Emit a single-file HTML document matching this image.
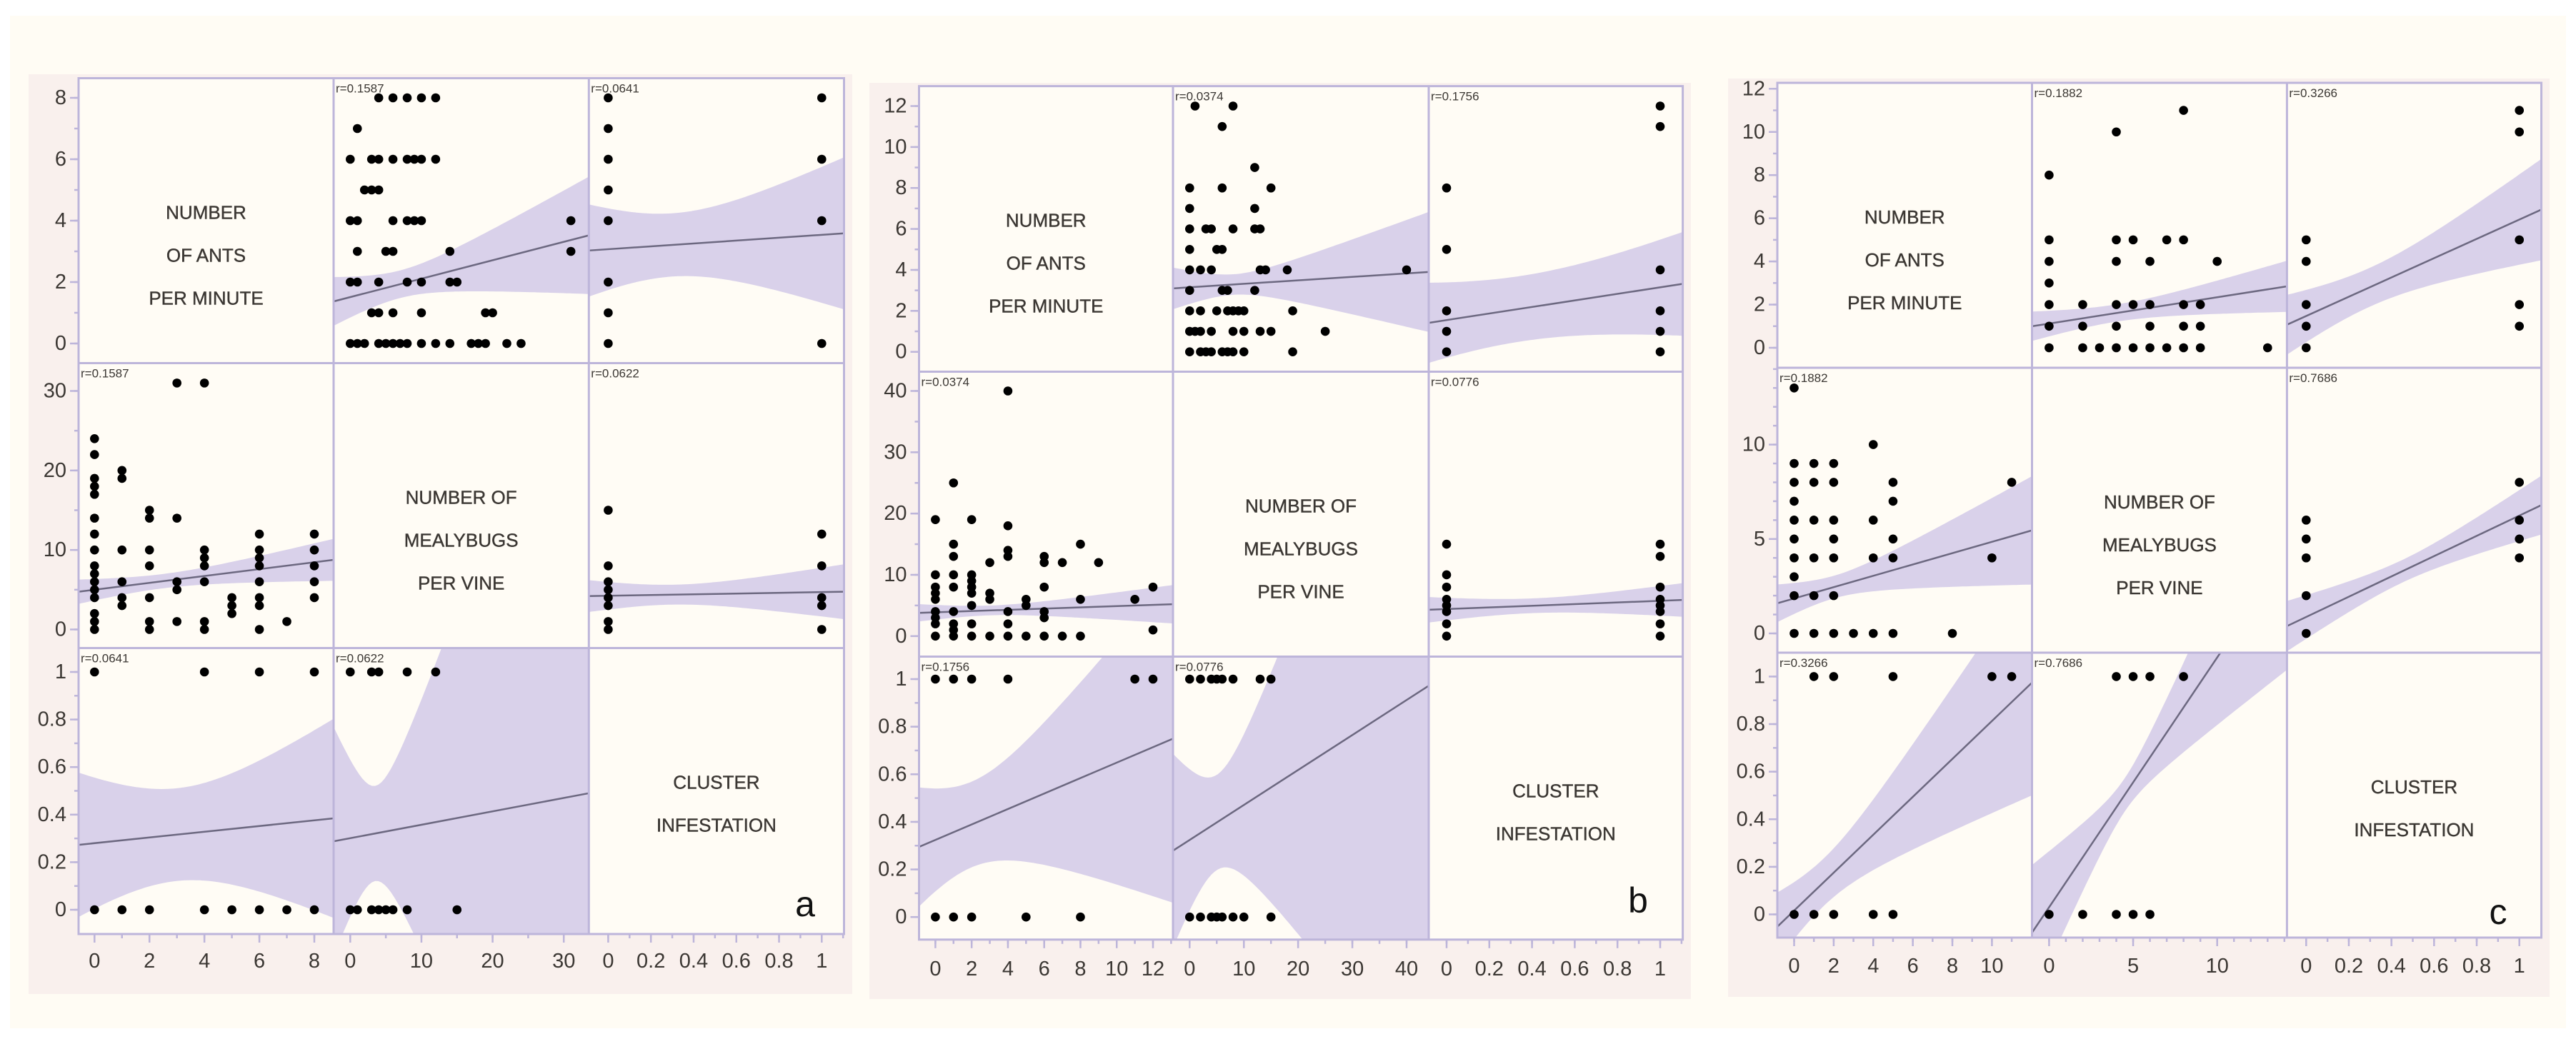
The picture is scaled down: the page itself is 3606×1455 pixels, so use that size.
<!DOCTYPE html>
<html><head><meta charset="utf-8"><style>
html,body{margin:0;padding:0;background:#fff;overflow:hidden;width:3606px;height:1455px;}
svg{display:block;}
</style></head><body>
<svg id="chart" width="3606" height="1455" viewBox="0 0 3606 1455" xmlns="http://www.w3.org/2000/svg"></svg>
<script>
// ---------- DATA ----------
// Ants vs mealybugs pairs, grouped by ants value: [ants, [mealybug values]]
const aAntsMealy = [[8,[4,6,8,10,12]],[7,[1]],[6,[0,3,4,6,8,9,10,12]],[5,[2,3,4]],[4,[0,1,6,8,9,10,31]],[3,[1,5,6,14,31]],[2,[0,1,4,8,10,14,15]],[1,[3,4,6,10,19,20]],[0,[0,1,2,4,5,6,7,8,10,12,14,17,18,19,22,24]]];
const bAntsMealy = [[12,[1,8]],[11,[6]],[9,[12]],[8,[0,6,15]],[7,[0,12]],[6,[0,3,4,8,12,13]],[5,[0,5,6]],[4,[0,2,4,13,14,18,40]],[3,[0,6,7,12]],[2,[0,2,5,7,8,9,10,19]],[1,[0,1,2,4,8,10,13,15,25]],[0,[0,2,3,4,6,7,8,10,19]]];
const cAntsMealy = [[11,[8]],[10,[4]],[8,[0]],[5,[0,4,5,7,8]],[4,[0,4,6,10]],[3,[0]],[2,[0,2,4,5,6,8,9]],[1,[0,2,4,6,8,9]],[0,[0,2,3,4,5,6,7,8,9,13]]];
// Cluster infestation (0/1) vs ants / mealybugs
const aAntsC0 = [0,1,2,4,5,6,7,8], aAntsC1 = [0,4,6,8];
const aMealyC0 = [0,1,3,4,5,6,8,15], aMealyC1 = [0,3,4,8,12];
const bAntsC0 = [0,1,2,5,8], bAntsC1 = [0,1,2,4,11,12];
const bMealyC0 = [0,2,4,5,6,8,10,15], bMealyC1 = [0,2,4,5,6,8,13,15];
const cAntsC0 = [0,1,2,4,5], cAntsC1 = [1,2,5,10,11];
const cMealyC0 = [0,2,4,5,6], cMealyC1 = [4,5,6,8];
// Correlations [ants-mealy, ants-cluster, mealy-cluster]
const aR = ["0.1587","0.0641","0.0622"];
const bR = ["0.0374","0.1756","0.0776"];
const cR = ["0.1882","0.3266","0.7686"];
// Fits per cell "rc": [intercept, slope, xbar, halfwidth-at-xbar, spread]
const aFits = {"01":[1.51,0.060,7,0.45,0.07],"02":[3.07,0.468,0.3,1.03,2.8],"10":[5.0,0.432,2.5,0.9,0.4],"12":[4.24,0.46,0.3,1.25,4],"20":[0.28,0.012,3,0.195,0.065],"21":[0.301,0.00564,3.5,0.2,0.075]};
const bFits = {"01":[3.15,0.017,8,0.5,0.08],"02":[1.55,1.6,0.35,1.6,2.6],"10":[3.89,0.1,3,0.8,0.3],"12":[4.41,1.35,0.4,1.2,3.5],"20":[0.324,0.0325,2,0.18,0.06],"21":[0.324,0.0147,5,0.2,0.044]};
const cFits = {"01":[1.12,0.122,4,0.4,0.11],"02":[1.47,4.47,0.3,0.9,2.7],"10":[1.85,0.30,2,0.6,0.28],"12":[0.87,5.37,0.45,0.6,2.2],"20":[0.016,0.0797,1.5,0.1,0.044],"21":[0.03,0.105,4.5,0.07,0.05]};
// Tick labels per variable axis [major values], minor step
const aTicks = [[0,2,4,6,8],[0,10,20,30],[0,0.2,0.4,0.6,0.8,1]];
const bTicks = [[0,2,4,6,8,10,12],[0,10,20,30,40],[0,0.2,0.4,0.6,0.8,1]];
const cTicks = [[0,2,4,6,8,10,12],[0,5,10],[0,0.2,0.4,0.6,0.8,1]];
const aXTicks = [[0,2,4,6,8],[0,10,20,30],[0,0.2,0.4,0.6,0.8,1]];
const bXTicks = [[0,2,4,6,8,10,12],[0,10,20,30,40],[0,0.2,0.4,0.6,0.8,1]];
const cXTicks = [[0,2,4,6,8,10],[0,5,10],[0,0.2,0.4,0.6,0.8,1]];
const aMinor = [[1,5,0.1],[1,5,0.1]];
const bMinor = [[1,5,0.1],[1,5,0.1]];
const cMinor = [[1,1,0.1],[1,1,0.1]];
const varLabels = [["NUMBER","OF ANTS","PER MINUTE"],["NUMBER OF","MEALYBUGS","PER VINE"],["CLUSTER","INFESTATION"]];

// ---------- LAYOUT (geometry only) ----------
const panels = [
 {id:"a", bg:[40,104,1193,1392], cols:[110,467,824.3,1181.5], rows:[109.5,508.5,907.5,1308],
  xm:[[0,132.3,8,440],[0,490.3,30,789.2],[0,851.4,1,1150.3]],
  ym:[[0,481,8,137],[0,881.5,30,547.5],[0,1274,1,941]], xlY:1346, letter:[1127,1283],
  pairs:aAntsMealy, ac0:aAntsC0, ac1:aAntsC1, mc0:aMealyC0, mc1:aMealyC1, r:aR, fits:aFits, yt:aTicks, xt:aXTicks, mn:aMinor},
 {id:"b", bg:[1217,116,2367,1399], cols:[1286.5,1642,2000,2355.6], rows:[120.6,520.5,919.5,1315.8],
  xm:[[0,1309.4,12,1614],[0,1665.3,40,1969],[0,2025,1,2324]],
  ym:[[0,492.7,12,148.5],[0,890.8,40,547.5],[0,1284.2,1,951]], xlY:1357, letter:[2293,1278],
  pairs:bAntsMealy, ac0:bAntsC0, ac1:bAntsC1, mc0:bMealyC0, mc1:bMealyC1, r:bR, fits:bFits, yt:bTicks, xt:bXTicks, mn:bMinor},
 {id:"c", bg:[2419,110,3569,1396], cols:[2488,2844.5,3201.4,3557.5], rows:[116,515,914,1313],
  xm:[[0,2511.5,10,2788.4],[0,2868.4,10,3103.7],[0,3228.3,1,3526.7]],
  ym:[[0,487,12,124.3],[0,887,10,622.6],[0,1280.5,1,947.4]], xlY:1353, letter:[3497,1294],
  pairs:cAntsMealy, ac0:cAntsC0, ac1:cAntsC1, mc0:cMealyC0, mc1:cMealyC1, r:cR, fits:cFits, yt:cTicks, xt:cXTicks, mn:cMinor}
];

const NS = "http://www.w3.org/2000/svg";
const svg = document.getElementById("chart");
function mk(tag, attrs, parent){
  const e = document.createElementNS(NS, tag);
  for (const k in attrs) e.setAttribute(k, attrs[k]);
  (parent||svg).appendChild(e);
  return e;
}
function lin(m){ return v => m[1] + (v-m[0])*(m[3]-m[1])/(m[2]-m[0]); }
function inv(m){ return p => m[0] + (p-m[1])*(m[2]-m[0])/(m[3]-m[1]); }
function fmt(v){ if (v===0) return "0"; if (v===1) return "1"; return String(+v.toFixed(2)); }

const FRAME = "#bdb5da", BAND = "#d9d1ea", LINE = "#6c6880", TXT = "#3b3733";
const FONT = '"Liberation Sans", "DejaVu Sans", sans-serif';

const pageBg = mk("rect",{x:14,y:22,width:3578,height:1418,fill:"#fffcf4"});



panels.forEach((P, pi) => {
  const g = mk("g",{});
  
  
  const bgR = mk("rect",{x:P.bg[0],y:P.bg[1],width:P.bg[2]-P.bg[0],height:P.bg[3]-P.bg[1],fill:"#f9f0ed"},g);
  
  
  const L=P.cols[0], R=P.cols[3], T=P.rows[0], B=P.rows[3];
  const plotR = mk("rect",{x:L,y:T,width:R-L,height:B-T,fill:"#fffcf5"},g);
  
  

  const X = P.xm.map(lin), Y = P.ym.map(lin), Xi = P.xm.map(inv);
  function pts(r,c){
    const out=[];
    const am=[]; P.pairs.forEach(gp => gp[1].forEach(m => am.push([gp[0],m])));
    const key = r+""+c;
    if (key==="01") am.forEach(p=>out.push([p[1],p[0]]));
    if (key==="10") am.forEach(p=>out.push([p[0],p[1]]));
    if (key==="02") { P.ac0.forEach(a=>out.push([0,a])); P.ac1.forEach(a=>out.push([1,a])); }
    if (key==="20") { P.ac0.forEach(a=>out.push([a,0])); P.ac1.forEach(a=>out.push([a,1])); }
    if (key==="12") { P.mc0.forEach(m=>out.push([0,m])); P.mc1.forEach(m=>out.push([1,m])); }
    if (key==="21") { P.mc0.forEach(m=>out.push([m,0])); P.mc1.forEach(m=>out.push([m,1])); }
    return out;
  }
  const rIdx = {"01":0,"10":0,"02":1,"20":1,"12":2,"21":2};

  for (let r=0;r<3;r++) for (let c=0;c<3;c++){
    const x0=P.cols[c], x1=P.cols[c+1], y0=P.rows[r], y1=P.rows[r+1];
    const cell = mk("g",{},g);
    
    
    if (r===c){
      const lines = varLabels[r];
      lines.forEach((t,i)=>{
        const tx = mk("text",{x:(x0+x1)/2,y:y0+188+60*i,"text-anchor":"middle","dominant-baseline":"central","font-family":FONT,"font-size":26,fill:TXT,stroke:TXT,"stroke-width":0.4},cell);
        tx.textContent = t;
        
        
      });
      continue;
    }
    const cid = "clip-"+P.id+r+c;
    const cp = mk("clipPath",{id:cid},cell);
    mk("rect",{x:x0,y:y0,width:x1-x0,height:y1-y0},cp);
    const inner = mk("g",{"clip-path":"url(#"+cid+")"},cell);
    const f = P.fits[r+""+c];
    const vx0 = Xi[c](x0), vx1 = Xi[c](x1);
    const up=[], lo=[];
    const N=80;
    for (let i=0;i<=N;i++){
      const v = vx0 + (vx1-vx0)*i/N;
      const yv = f[0]+f[1]*v;
      const hw = Math.sqrt(f[3]*f[3] + f[4]*f[4]*(v-f[2])*(v-f[2]));
      up.push(X[c](v).toFixed(1)+","+Y[r](yv+hw).toFixed(1));
      lo.unshift(X[c](v).toFixed(1)+","+Y[r](yv-hw).toFixed(1));
    }
    const band = mk("polygon",{points:up.concat(lo).join(" "),fill:BAND},inner);
    
    
    const fl = mk("line",{x1:X[c](vx0),y1:Y[r](f[0]+f[1]*vx0),x2:X[c](vx1),y2:Y[r](f[0]+f[1]*vx1),stroke:LINE,"stroke-width":2.5},inner);
    
    
    pts(r,c).forEach(p=>{
      const d = mk("circle",{cx:X[c](p[0]),cy:Y[r](p[1]),r:6.3,fill:"#000"},inner);
      
      
    });
    const rt = mk("text",{x:x0+3,y:y0+20,"font-family":FONT,"font-size":17,fill:TXT},cell);
    rt.textContent = "r=" + P.r[rIdx[r+""+c]];
    
    
  }

  const fr = mk("g",{stroke:FRAME,"stroke-width":3,fill:"none"},g);
  
  
  mk("rect",{x:L,y:T,width:R-L,height:B-T},fr);
  [1,2].forEach(i=>{
    mk("line",{x1:P.cols[i],y1:T,x2:P.cols[i],y2:B},fr);
    mk("line",{x1:L,y1:P.rows[i],x2:R,y2:P.rows[i]},fr);
  });

  const tk = mk("g",{stroke:FRAME,"stroke-width":2.5},g);
  for (let r=0;r<3;r++){
    const y0=P.rows[r], y1=P.rows[r+1];
    const step = P.mn[0][r];
    const yi = inv(P.ym[r]);
    const vlo = Math.min(yi(y0),yi(y1)), vhi = Math.max(yi(y0),yi(y1));
    for (let v=Math.ceil(vlo/step)*step; v<=vhi+1e-9; v+=step){
      const py = Y[r](v); if (py<y0+1||py>y1-1) continue;
      mk("line",{x1:L-6,y1:py,x2:L,y2:py},tk);
    }
    P.yt[r].forEach(v=>{
      const py = Y[r](v); if (py<y0||py>y1) return;
      mk("line",{x1:L-12,y1:py,x2:L,y2:py},tk);
      const t = mk("text",{x:L-17,y:py,"text-anchor":"end","dominant-baseline":"central","font-family":FONT,"font-size":29,fill:TXT},g);
      t.textContent = fmt(v);
      
      
    });
  }
  for (let c=0;c<3;c++){
    const x0=P.cols[c], x1=P.cols[c+1];
    const step = P.mn[1][c];
    const vlo = Xi[c](x0), vhi = Xi[c](x1);
    for (let v=Math.ceil(vlo/step)*step; v<=vhi+1e-9; v+=step){
      const px = X[c](v); if (px<x0+1||px>x1-1) continue;
      mk("line",{x1:px,y1:B,x2:px,y2:B+6},tk);
    }
    P.xt[c].forEach(v=>{
      const px = X[c](v); if (px<x0||px>x1) return;
      mk("line",{x1:px,y1:B,x2:px,y2:B+12},tk);
      const t = mk("text",{x:px,y:P.xlY,"text-anchor":"middle","dominant-baseline":"central","font-family":FONT,"font-size":29,fill:TXT},g);
      t.textContent = fmt(v);
      
      
    });
  }
  const lt = mk("text",{x:P.letter[0],y:P.letter[1],"text-anchor":"middle","font-family":FONT,"font-size":50,fill:"#111"},g);
  lt.textContent = P.id;
  
  
});
</script>
</body></html>
